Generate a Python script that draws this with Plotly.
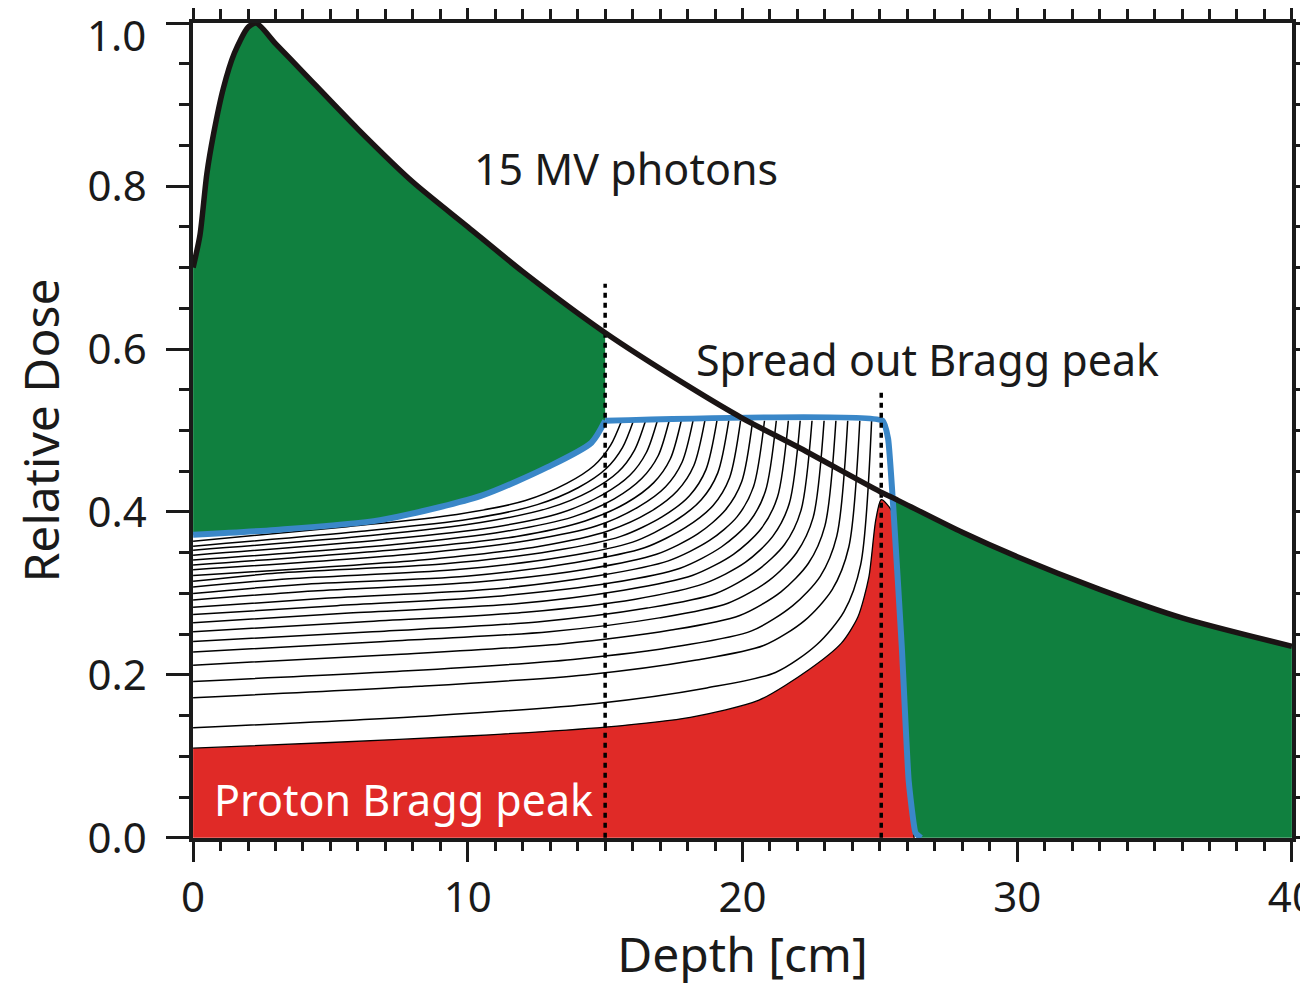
import plotly.graph_objects as go

# ---------------- data ----------------
# 15 MV photon depth-dose curve
photon_x = [0, 0.25, 0.5, 0.75, 1.1, 1.5, 2.0, 2.3, 3, 4, 6, 8, 10, 12, 15, 18, 20, 22, 25, 25.5, 28, 30, 33, 36, 40]
photon_y = [0.70, 0.74, 0.815, 0.865, 0.92, 0.963, 0.995, 1.0, 0.975, 0.94, 0.87, 0.805, 0.75, 0.695, 0.62, 0.555, 0.515, 0.48, 0.425, 0.417, 0.375, 0.345, 0.305, 0.27, 0.235]

# Spread out Bragg peak (blue envelope)
sobp_entr_x = [0, 3, 6.8, 10.5, 12.9, 14.5, 15.0]
sobp_entr_y = [0.372, 0.378, 0.39, 0.42, 0.455, 0.485, 0.512]
sobp_fall_x = [15.0, 25.1, 25.3, 25.5, 25.8, 26.05, 26.3, 26.5]
sobp_fall_y = [0.512, 0.512, 0.49, 0.40, 0.234, 0.07, 0.006, 0.0]

# deepest pristine proton Bragg peak (red)
bragg_x = [0, 5, 10, 15, 18.1, 20.6, 22.4, 23.6, 24.2, 24.6, 24.85, 25.05, 25.45, 25.75, 26.0, 26.25]
bragg_y = [0.110, 0.117, 0.125, 0.136, 0.148, 0.169, 0.206, 0.239, 0.271, 0.32, 0.39, 0.415, 0.40, 0.234, 0.07, 0.0]

# green area right of the SOBP fall-off: lower edge
green2_low_x = [25.5, 25.8, 26.05, 26.3, 26.5, 40]
green2_low_y = [0.417, 0.234, 0.07, 0.006, 0.0, 0.0]

# weighted, summed Bragg curves building up the SOBP (bottom to top)
sum_curves = [
    ([0, 8.7, 14.7, 18.7, 21.2, 22.7, 23.7, 24.3, 24.7], [0.135, 0.150, 0.165, 0.184, 0.203, 0.237, 0.278, 0.335, 0.512]),
    ([0, 8.27, 14.27, 18.27, 20.77, 22.27, 23.27, 23.87, 24.27], [0.172, 0.186, 0.200, 0.218, 0.236, 0.267, 0.305, 0.357, 0.512]),
    ([0, 7.83, 13.83, 17.83, 20.33, 21.83, 22.83, 23.43, 23.83], [0.192, 0.205, 0.219, 0.236, 0.254, 0.285, 0.321, 0.370, 0.512]),
    ([0, 7.4, 13.4, 17.4, 19.9, 21.4, 22.4, 23.0, 23.4], [0.212, 0.225, 0.238, 0.255, 0.273, 0.302, 0.337, 0.383, 0.512]),
    ([0, 6.97, 12.97, 16.97, 19.47, 20.97, 21.97, 22.57, 22.97], [0.228, 0.241, 0.253, 0.270, 0.288, 0.316, 0.350, 0.393, 0.512]),
    ([0, 6.53, 12.53, 16.53, 19.03, 20.53, 21.53, 22.13, 22.53], [0.241, 0.253, 0.265, 0.282, 0.300, 0.328, 0.360, 0.402, 0.512]),
    ([0, 6.1, 12.1, 16.1, 18.6, 20.1, 21.1, 21.7, 22.1], [0.253, 0.265, 0.277, 0.293, 0.312, 0.338, 0.370, 0.410, 0.512]),
    ([0, 5.67, 11.67, 15.67, 18.17, 19.67, 20.67, 21.27, 21.67], [0.264, 0.276, 0.287, 0.304, 0.322, 0.348, 0.379, 0.418, 0.512]),
    ([0, 5.23, 11.23, 15.23, 17.73, 19.23, 20.23, 20.83, 21.23], [0.274, 0.285, 0.297, 0.313, 0.331, 0.357, 0.387, 0.425, 0.512]),
    ([0, 4.8, 10.8, 14.8, 17.3, 18.8, 19.8, 20.4, 20.8], [0.283, 0.294, 0.305, 0.322, 0.340, 0.365, 0.394, 0.431, 0.512]),
    ([0, 4.37, 10.37, 14.37, 16.87, 18.37, 19.37, 19.97, 20.37], [0.292, 0.303, 0.314, 0.330, 0.348, 0.373, 0.402, 0.437, 0.512]),
    ([0, 3.93, 9.93, 13.93, 16.43, 17.93, 18.93, 19.53, 19.93], [0.300, 0.311, 0.321, 0.338, 0.356, 0.381, 0.408, 0.442, 0.512]),
    ([0, 3.5, 9.5, 13.5, 16.0, 17.5, 18.5, 19.1, 19.5], [0.308, 0.318, 0.329, 0.345, 0.363, 0.388, 0.415, 0.448, 0.512]),
    ([0, 3.07, 9.07, 13.07, 15.57, 17.07, 18.07, 18.67, 19.07], [0.315, 0.325, 0.336, 0.352, 0.370, 0.394, 0.420, 0.452, 0.512]),
    ([0, 8.63, 12.63, 15.13, 16.63, 17.63, 18.23, 18.63], [0.322, 0.342, 0.358, 0.377, 0.400, 0.426, 0.457, 0.512]),
    ([0, 8.2, 12.2, 14.7, 16.2, 17.2, 17.8, 18.2], [0.329, 0.349, 0.365, 0.383, 0.406, 0.431, 0.461, 0.512]),
    ([0, 7.77, 11.77, 14.27, 15.77, 16.77, 17.37, 17.77], [0.335, 0.355, 0.370, 0.389, 0.411, 0.436, 0.465, 0.512]),
    ([0, 7.33, 11.33, 13.83, 15.33, 16.33, 16.93, 17.33], [0.341, 0.360, 0.376, 0.394, 0.416, 0.441, 0.469, 0.512]),
    ([0, 6.9, 10.9, 13.4, 14.9, 15.9, 16.5, 16.9], [0.347, 0.366, 0.381, 0.399, 0.421, 0.445, 0.473, 0.512]),
    ([0, 6.47, 10.47, 12.97, 14.47, 15.47, 16.07, 16.47], [0.353, 0.371, 0.387, 0.405, 0.426, 0.449, 0.476, 0.512]),
    ([0, 6.03, 10.03, 12.53, 14.03, 15.03, 15.63, 16.03], [0.358, 0.376, 0.391, 0.409, 0.430, 0.453, 0.479, 0.512]),
    ([0, 5.6, 9.6, 12.1, 13.6, 14.6, 15.2, 15.6], [0.364, 0.382, 0.397, 0.414, 0.435, 0.457, 0.482, 0.512]),
]

# dotted markers of the SOBP region
marker_x = [15.0, 25.05]
marker_top = [0.68, 0.55]

labels = ["15 MV photons", "Spread out Bragg peak", "Proton Bragg peak"]
label_x = [10.15, 18.25, 0.7]
label_y = [0.822, 0.587, 0.047]

x_ticks = [0, 10, 20, 30, 40]
y_ticks = [0.0, 0.2, 0.4, 0.6, 0.8, 1.0]
y_tick_text = ["0.0", "0.2", "0.4", "0.6", "0.8", ""]   # top label drawn slightly lowered below
y_top_label = "1.0"

x_title = "Depth [cm]"
y_title = "Relative Dose"

# ---------------- styling ----------------
GREEN = "#10803f"
RED = "#e02a27"
BLUE = "#3a87c8"
INK = "#1a1a1a"
FONT = "Noto Sans"
X_RANGE = [-0.004, 40.004]
Y_RANGE = [-0.0002, 1.0002]

fig = go.Figure()

# red pristine peak
fig.add_trace(go.Scatter(x=bragg_x, y=bragg_y, mode="lines", fill="tozeroy",
                         fillcolor=RED, line=dict(color="black", width=1.3, shape="spline", smoothing=0.7),
                         hoverinfo="skip", showlegend=False))

# green area between SOBP entrance and photon curve (x <= 15)
ph_left_x = [x for x in photon_x if x <= 15]
ph_left_y = [y for x, y in zip(photon_x, photon_y) if x <= 15]
fig.add_trace(go.Scatter(x=sobp_entr_x, y=sobp_entr_y, mode="lines",
                         line=dict(width=0, shape="spline", smoothing=0.7),
                         hoverinfo="skip", showlegend=False))
fig.add_trace(go.Scatter(x=ph_left_x, y=ph_left_y, mode="lines", fill="tonexty",
                         fillcolor=GREEN, line=dict(width=0, shape="spline", smoothing=0.7),
                         hoverinfo="skip", showlegend=False))

# green area beyond the SOBP fall-off
ph_right_x = [x for x in photon_x if x >= 25.5]
ph_right_y = [y for x, y in zip(photon_x, photon_y) if x >= 25.5]
fig.add_trace(go.Scatter(x=green2_low_x, y=green2_low_y, mode="lines",
                         line=dict(width=0), hoverinfo="skip", showlegend=False))
fig.add_trace(go.Scatter(x=ph_right_x, y=ph_right_y, mode="lines", fill="tonexty",
                         fillcolor=GREEN, line=dict(width=0, shape="spline", smoothing=0.7),
                         hoverinfo="skip", showlegend=False))

# summed Bragg curves
for cx, cy in sum_curves:
    fig.add_trace(go.Scatter(x=cx, y=cy, mode="lines",
                             line=dict(color="black", width=1.5, shape="spline", smoothing=0.8),
                             hoverinfo="skip", showlegend=False))

# blue SOBP envelope (entrance, then plateau + distal fall-off)
fig.add_trace(go.Scatter(x=sobp_entr_x, y=sobp_entr_y, mode="lines",
                         line=dict(color=BLUE, width=6, shape="spline", smoothing=0.7),
                         hoverinfo="skip", showlegend=False))
fig.add_trace(go.Scatter(x=sobp_fall_x, y=sobp_fall_y, mode="lines",
                         line=dict(color=BLUE, width=6, shape="spline", smoothing=0.4),
                         hoverinfo="skip", showlegend=False))

# dotted verticals
for mx, mt in zip(marker_x, marker_top):
    fig.add_trace(go.Scatter(x=[mx, mx], y=[0, mt], mode="lines",
                             line=dict(color="black", width=3.5, dash="5px,5px"),
                             hoverinfo="skip", showlegend=False))

# photon curve
fig.add_trace(go.Scatter(x=photon_x, y=photon_y, mode="lines",
                         line=dict(color="#1a1414", width=5.5, shape="spline", smoothing=0.7),
                         hoverinfo="skip", showlegend=False))

# dummy trace for mirrored (top/right) axes
fig.add_trace(go.Scatter(x=[None], y=[None], xaxis="x2", yaxis="y2",
                         hoverinfo="skip", showlegend=False))

for txt, lx, ly in zip(labels, label_x, label_y):
    fig.add_annotation(x=lx, y=ly, text=txt, showarrow=False, xanchor="left", yanchor="middle",
                       font=dict(family=FONT, size=43, color="white" if txt.startswith("Proton") else INK))

# top y tick label, nudged down so it stays inside the page
fig.add_annotation(x=0, xref="paper", y=y_ticks[-1], yref="y", text=y_top_label, showarrow=False,
                   xanchor="right", yanchor="middle", xshift=-45, yshift=-11,
                   font=dict(family=FONT, size=42, color=INK))

axis_common = dict(showline=True, linecolor=INK, linewidth=3.5, showgrid=False, zeroline=False,
                   ticks="outside", tickcolor=INK, tickwidth=3, automargin=False)

# the page body adds an 8 px offset, so the figure is sized to the visible area
fig.update_layout(
    width=1300, height=978,
    margin=dict(l=185, r=16, t=15, b=148),
    paper_bgcolor="white", plot_bgcolor="white",
    font=dict(family=FONT, color=INK),
    xaxis=dict(range=X_RANGE, tickmode="array", tickvals=x_ticks, ticklen=20,
               minor=dict(ticks="outside", dtick=1, tick0=0, ticklen=9, tickwidth=3, tickcolor=INK),
               tickfont=dict(size=42), ticklabelstandoff=0, ticklabeloverflow="allow",
               title=dict(text=x_title, font=dict(size=48), standoff=10),
               **axis_common),
    yaxis=dict(range=Y_RANGE, tickmode="array", tickvals=y_ticks, ticktext=y_tick_text, ticklen=23,
               minor=dict(ticks="outside", dtick=0.05, tick0=0, ticklen=10, tickwidth=3, tickcolor=INK),
               tickfont=dict(size=42), ticklabelstandoff=11, ticklabeloverflow="allow",
               title=dict(text=y_title, font=dict(size=48), standoff=22),
               **axis_common),
    xaxis2=dict(range=X_RANGE, overlaying="x", side="top", anchor="y2", tickmode="array", tickvals=x_ticks, ticklen=13,
                minor=dict(ticks="outside", dtick=1, tick0=0, ticklen=10, tickwidth=3, tickcolor=INK),
                showticklabels=False, **axis_common),
    yaxis2=dict(range=Y_RANGE, overlaying="y", side="right", anchor="x2", tickmode="array", tickvals=y_ticks, ticklen=16,
                minor=dict(ticks="outside", dtick=0.05, tick0=0, ticklen=10, tickwidth=3, tickcolor=INK),
                showticklabels=False, **axis_common),
)

fig.write_html("out.html")
